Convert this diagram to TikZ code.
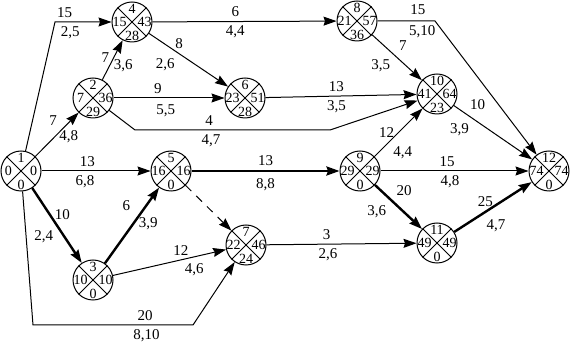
\documentclass[tikz,border=0pt]{standalone}
\usepackage{fontspec}
\setmainfont{Liberation Serif}
\usetikzlibrary{arrows.meta, calc}

\begin{document}
\begin{tikzpicture}[x=1pt, y=-1pt, inner sep=4pt,
  font=\fontsize{15}{17}\selectfont,
  ev/.style={circle, draw, line width=1pt, minimum size=40pt, inner sep=0pt},
  num/.style={inner sep=0pt, font=\fontsize{14}{14}\selectfont},
  act/.style={line width=1pt, -{Stealth[length=13pt, width=9pt, inset=1.5pt]}},
  crit/.style={act, line width=2.4pt}]
  \useasboundingbox (0,0) rectangle (570,344);
  % events: number / x / y / top / left / right / bottom
  \foreach \n/\x/\y/\a/\b/\c/\d in {1/21/171/1/0/0/0, 2/93/98/2/7/36/29,
      3/93/280/3/10/10/0, 4/132/22/4/15/43/28, 5/171/171/5/16/16/0,
      6/245/98/6/23/51/28, 7/246/245/7/22/46/24, 8/357/21/8/21/57/36,
      9/360/171/9/29/29/0, 10/437/94/10/41/64/23, 11/437/243/11/49/49/0,
      12/549/171/12/74/74/0}{
    \node[ev] (n\n) at (\x,\y) {};
    \draw[line width=1pt] (n\n.45) -- (n\n.225) (n\n.135) -- (n\n.315);
    \node[num] at ($(n\n)+(0,-13.5)$) {\a};
    \node[num] at ($(n\n)+(-12.5,0)$) {\b};
    \node[num] at ($(n\n)+(12.5,0)$) {\c};
    \node[num] at ($(n\n)+(0,13.5)$) {\d};
  }
  % activities
  \draw[act] (n1) -- (55,22) -- node[pos=.17, above]{15} node[pos=.27, below]{2,5} (n4);
  \draw[act] (n1) -- node[pos=.6, above left]{7} node[pos=.45, right]{4,8} (n2);
  \draw[act] (n2) -- node[pos=.55, left]{7} node[pos=.35, right]{3,6} (n4);
  \draw[act] (n1) -- node[pos=.42, above]{13} node[pos=.4, below]{6,8} (n5);
  \draw[crit] (n1) -- node[pos=.35, right]{10} node[pos=.65, left=6pt]{2,4} (n3);
  \draw[act] (n1) -- (33,325) -- node[pos=.7, above]{20} node[pos=.71, below]{8,10} (193,325) -- (n7);
  \draw[crit] (n3) -- node[pos=.6, above left=2pt]{6} node[pos=.53, right]{3,9} (n5);
  \draw[act] (n3) -- node[pos=.6, above]{12} node[pos=.72, below=2pt]{4,6} (n7);
  \draw[act, dash pattern=on 8pt off 7pt] (n5) -- (n7);
  \draw[crit] (n5) -- node[above]{13} node[below=2pt]{8,8} (n9);
  \draw[act] (n4) -- node[pos=.45, above]{6} node[pos=.45, below]{4,4} (n8);
  \draw[act] (n4) -- node[pos=.38, above]{8} node[pos=.38, below left]{2,6} (n6);
  \draw[act] (n2) -- node[pos=.4, above]{9} node[pos=.47, below=2pt]{5,5} (n6);
  \draw[act] (n2) -- (135,130) -- node[pos=.38, above]{4} node[pos=.39, below]{4,7} (330,130) -- (n10);
  \draw[act] (n6) -- node[pos=.47, above]{13} node[pos=.47, below]{3,5} (n10);
  \draw[act] (n8) -- node[pos=.45, above right]{7} node[pos=.45, below left]{3,5} (n10);
  \draw[act] (n8) -- node[pos=.7, above=2pt]{15} node[pos=.78, below]{5,10} (435,21) -- (n12);
  \draw[act] (n10) -- node[pos=.15, above right]{10} node[pos=.25, below left]{3,9} (n12);
  \draw[act] (n9) -- node[pos=.5, left]{12} node[pos=.3, below right]{4,4} (n10);
  \draw[act] (n9) -- node[pos=.45, above]{15} node[pos=.47, below]{4,8} (n12);
  \draw[crit] (n9) -- node[pos=.35, above right]{20} node[pos=.35, below left]{3,6} (n11);
  \draw[act] (n7) -- node[pos=.4, above]{3} node[pos=.41, below]{2,6} (n11);
  \draw[crit] (n11) -- node[pos=.4, above]{25} node[pos=.35, below right]{4,7} (n12);
\end{tikzpicture}
\end{document}
